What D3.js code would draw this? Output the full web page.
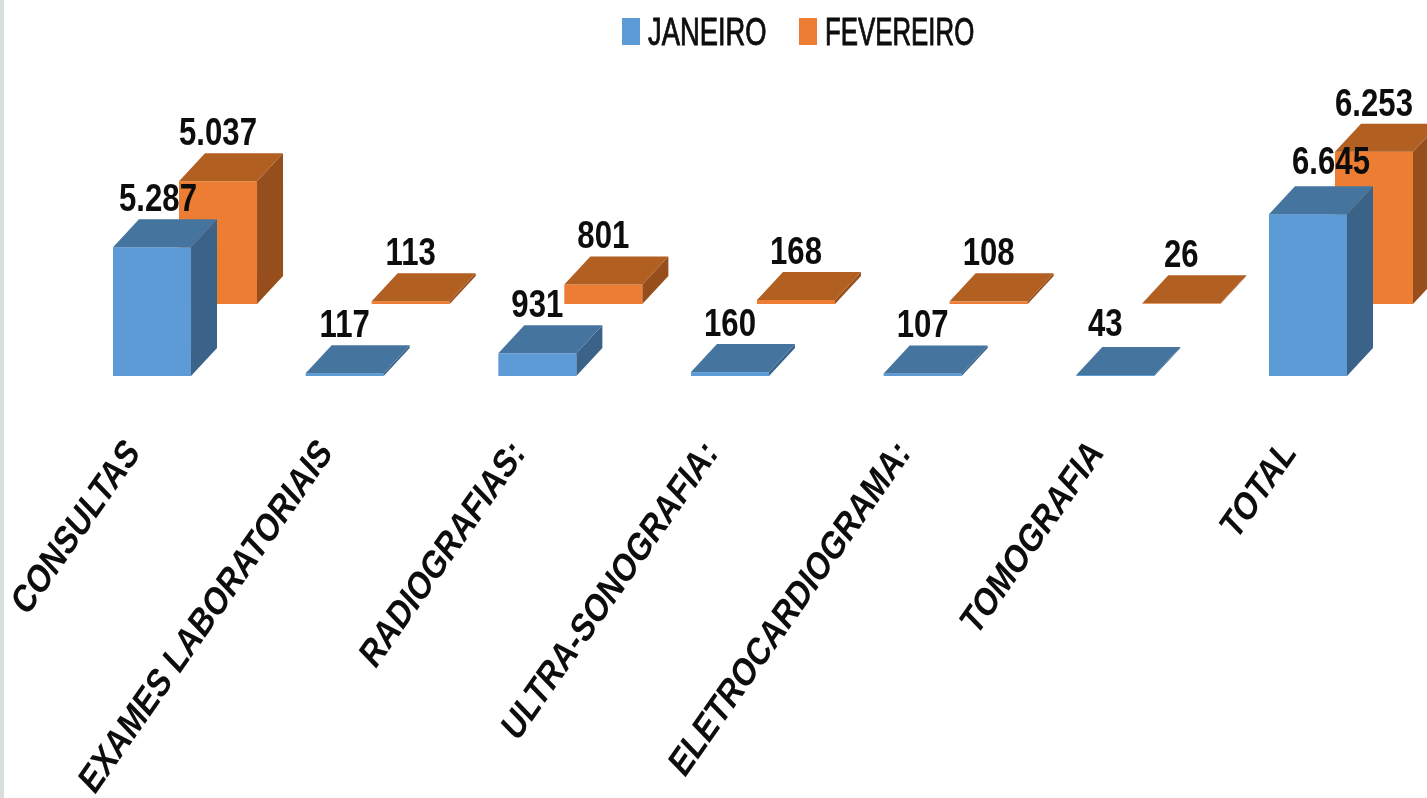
<!DOCTYPE html>
<html>
<head>
<meta charset="utf-8">
<script src="https://cdnjs.cloudflare.com/ajax/libs/d3/7.8.5/d3.min.js"></script>
<style>
  html, body { margin: 0; padding: 0; background: #fff; overflow: hidden; }
  text { font-family: "Liberation Sans", sans-serif; fill: #0a0a0a; }
</style>
</head>
<body>
<svg id="chart" width="1427" height="798"></svg>
<script>
const categories = ['CONSULTAS', 'EXAMES LABORATORIAIS', 'RADIOGRAFIAS:', 'ULTRA-SONOGRAFIA:', 'ELETROCARDIOGRAMA:', 'TOMOGRAFIA', 'TOTAL']
const janeiro = [5287, 117, 931, 160, 107, 43, 6645]
const fevereiro = [5037, 113, 801, 168, 108, 26, 6253]
const seriesNames = ['JANEIRO', 'FEVEREIRO']

const svg = d3.select('#chart')
const width = 1427, height = 798

/* the reference is a soft, upscaled screenshot */
svg.append('defs').append('filter')
    .attr('id', 'soft')
    .append('feGaussianBlur')
    .attr('stdDeviation', 0.6)

const root = svg.append('g').attr('filter', 'url(#soft)')

/* left grey strip of the screenshot */
svg.append('rect').attr('width', 4).attr('height', height).attr('fill', '#d8dddd')

/* params */
const depth_x = 26, depth_y = 28
const series_dx = 66, series_dy = -72
const baseline = 376

const color_blue = {front: '#5b9bd5', top: '#44749f', side: '#3a6489'}
const color_orange = {front: '#ed7d31', top: '#b25e22', side: '#964f1c'}

const x = d3.scaleBand()
    .domain(categories)
    .range([113, 1347])
    .paddingInner(0.595)
    .paddingOuter(0)

const y = d3.scaleLinear().domain([0, 7000]).range([0, 170.5])

const fmt = d3.formatLocale({decimal: ',', thousands: '.', grouping: [3], currency: ['', '']}).format(',d')

const series = [
    {name: seriesNames[1], values: fevereiro, color: color_orange, dx: series_dx, dy: series_dy},
    {name: seriesNames[0], values: janeiro, color: color_blue, dx: 0, dy: 0}
]

/* some labels were moved by hand in the original */
const label_nudge = {'JANEIRO|CONSULTAS': [6, 0], 'JANEIRO|TOMOGRAFIA': [-10, -3], 'JANEIRO|TOTAL': [23, -4]}

const bars = root.append('g')

series.forEach(s => {
    const g = bars.append('g').attr('class', 'series')
    const w = x.bandwidth()
    categories.forEach((c, i) => {
        const x0 = x(c) + s.dx, b = baseline + s.dy, h = y(s.values[i]), t = b - h
        /* front, then side and top of the box */
        g.append('rect')
            .attr('x', x0).attr('y', t).attr('width', w).attr('height', h)
            .attr('fill', s.color.front)
        g.append('path')
            .attr('d', `M${x0 + w},${t} L${x0 + w + depth_x},${t - depth_y} L${x0 + w + depth_x},${b - depth_y} L${x0 + w},${b} Z`)
            .attr('fill', s.color.side)
        g.append('path')
            .attr('d', `M${x0},${t} L${x0 + depth_x},${t - depth_y} L${x0 + w + depth_x},${t - depth_y} L${x0 + w},${t} Z`)
            .attr('fill', s.color.top)
    })
})

/* value labels on top of every bar */
series.forEach(s => {
    root.append('g')
        .selectAll('text')
        .data(categories)
        .join('text')
        .attr('transform', (c, i) => {
            const nudge = label_nudge[s.name + '|' + c] || [0, 0]
            const lx = x(c) + s.dx + 39 + nudge[0]
            const ly = baseline + s.dy - y(s.values[i]) - depth_y - 8 + nudge[1]
            return `translate(${lx},${ly}) scale(0.82,1)`
        })
        .attr('text-anchor', 'middle')
        .style('font-size', '38px')
        .style('font-weight', 'bold')
        .text((c, i) => fmt(s.values[i]))
})

/* category axis, labels only. the slant comes from the skew */
const axis = root.append('g')
    .attr('transform', 'translate(-20,445)')
    .call(d3.axisBottom(x).tickSize(0))
axis.select('.domain').remove()
axis.selectAll('text')
    .attr('x', 0).attr('y', 0).attr('dy', '0.35em')
    .attr('text-anchor', 'end')
    .attr('transform', 'rotate(-55) scale(0.91,1) skewX(-12)')
    .style('font-family', '"Liberation Sans", sans-serif')
    .style('font-size', '36px')
    .style('font-weight', 'bold')

/* legend */
const legend = root.append('g')
const legend_x = d3.scaleOrdinal().domain(seriesNames).range([622, 799])
const legend_color = d3.scaleOrdinal().domain(seriesNames).range([color_blue.front, color_orange.front])
const legend_stretch = d3.scaleOrdinal().domain(seriesNames).range([0.72, 0.68])
seriesNames.forEach(n => {
    legend.append('rect')
        .attr('x', legend_x(n)).attr('y', 18).attr('width', 18).attr('height', 27)
        .attr('fill', legend_color(n))
    legend.append('text')
        .attr('transform', `translate(${legend_x(n) + 26},45) scale(${legend_stretch(n)},1)`)
        .style('font-size', '38px')
        .attr('stroke', '#0a0a0a')
        .attr('stroke-width', 0.9)
        .text(n)
})
</script>
</body>
</html>
